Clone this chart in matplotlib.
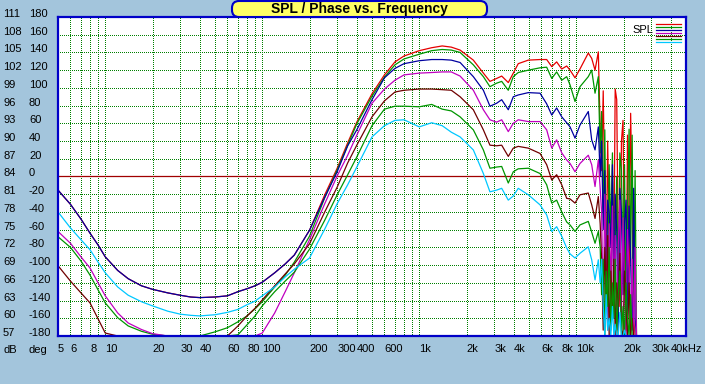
import numpy as np
import matplotlib.pyplot as plt
from matplotlib.patches import FancyBboxPatch
from matplotlib.lines import Line2D
from matplotlib.transforms import IdentityTransform, ScaledTranslation, blended_transform_factory

plt.rcParams['font.family'] = ['Liberation Sans', 'DejaVu Sans']
plt.rcParams['lines.scale_dashes'] = False

## frequency points (Hz), shared by all curves
freq = [5, 6, 7, 8, 9, 10, 12, 14, 17, 20, 25, 30, 35, 40, 50, 60, 70, 80, 90, 100,
        120, 140, 160, 200, 250, 300, 350, 400, 500, 600, 700, 800, 1000, 1200, 1400, 1600,
        1820, 2210, 2560, 2820, 3110, 3350, 3690, 3970, 4270, 4950, 5880, 6480, 6980, 7500,
        8080, 8690, 9130, 9820, 10560, 11930, 12540, 13170, 13820,
        14200, 14500, 14850, 15200, 15500, 15850, 16200, 16600, 17000, 17350, 17700, 18100,
        18500, 18950, 19400, 19850, 20300, 20750, 21200, 21700, 22200, 22700, 23200, 23700,
        24200, 50000]

# SPL curves (dB)
spl_red = [81.7, 79.3, 76.8, 74.4, 72.4, 70.4, 68.1, 66.7, 65.5, 64.9, 64.3, 63.9, 63.6, 63.5,
           63.6, 63.8, 64.5, 65.0, 65.5, 66.1, 67.7, 69.2, 70.7, 74.9, 80.9, 85.4, 89.7, 93.2,
           98.0, 101.2, 103.4, 104.4, 105.3, 105.8, 106.1, 105.9,
           105.4, 103.7, 101.5, 100.1, 100.6, 101.0, 99.9, 101.5, 103.1, 103.7, 103.8, 103.8,
           102.6, 103.4, 102.2, 102.7, 102.0, 100.7, 102.2, 104.9, 104.0, 102.0, 105.1,
           92, 85, 98.5, 80, 66, 90, 75, 60, 84, 70, 98.8, 97, 72, 62, 90, 93.5, 68, 58, 91,
           64, 94.7, 80, 60, 57, 57, 57]
spl_green1 = [73.8, 72.0, 69.7, 67.3, 64.8, 62.6, 60.1, 58.7, 57.8, 57.3, 57, 57, 57, 57,
              57.7, 58.4, 59.4, 60.4, 61.6, 62.8, 65.3, 67.3, 69.5, 73.9, 80.4, 85.1, 89.3, 92.9,
              97.6, 100.8, 102.9, 103.9, 104.7, 105.3, 105.5, 105.4,
              105.0, 102.9, 100.9, 99.2, 99.8, 100.1, 98.6, 100.9, 101.6, 102.0, 102.4, 102.5,
              100.6, 101.7, 100.3, 100.9, 99.5, 96.7, 99.2, 100.9, 102.0, 98.1, 100.9,
              88, 95, 78, 91.9, 70, 62, 86, 75, 88, 66, 72, 84, 60, 88, 85, 70, 86, 59, 78,
              92, 70, 91, 62, 85, 57, 57]
spl_navy = [81.7, 79.3, 76.8, 74.4, 72.4, 70.4, 68.1, 66.7, 65.5, 64.9, 64.3, 63.9, 63.6, 63.5,
            63.6, 63.8, 64.5, 65.0, 65.5, 66.1, 67.7, 69.2, 70.7, 74.9, 80.5, 84.8, 89.2, 91.9,
            97.0, 100.7, 102.3, 103.1, 103.6, 103.8, 103.8, 103.7,
            103.3, 100.9, 98.6, 95.9, 96.4, 97.0, 95.3, 97.5, 97.8, 98.2, 98.1, 96.3,
            94.4, 95.6, 94.1, 93.1, 92.4, 90.5, 92.7, 95.0, 90.2, 88.5, 92.4,
            84, 90, 75, 85, 62, 80, 78, 72, 86, 60, 81, 75, 58, 82, 78, 64, 76, 80, 60,
            79, 70, 58, 82, 60, 57, 57]
spl_magenta = [74.7, 72.7, 70.4, 68.5, 66.0, 63.8, 60.9, 59.2, 58.1, 57.4, 57, 57, 57, 57,
               57, 57, 57, 57, 57, 57.5, 60.9, 64.5, 67.7, 73.3, 79.4, 84.1, 87.6, 91.0,
               96.4, 98.8, 100.3, 101.2, 101.5, 101.6, 101.7, 101.7,
               101.0, 98.6, 95.3, 93.6, 93.2, 93.6, 91.6, 93.0, 93.6, 93.3, 93.3, 91.9,
               88.8, 90.2, 88.0, 86.8, 86.2, 84.8, 86.2, 87.6, 86.0, 82.3, 86.8,
               82, 78, 60, 81, 70, 58, 76, 66, 79, 62, 74, 57, 72, 80, 60, 77, 64, 57, 75,
               68, 58, 70, 57, 72, 57, 57]
spl_maroon = [68.9, 66.3, 64.3, 62.6, 59.9, 57.5, 57, 57, 57, 57, 57, 57, 57, 57,
              57, 57, 58.7, 60.4, 61.7, 63.1, 65.5, 67.5, 69.2, 72.6, 78.0, 82.2, 86.3, 89.3,
              94.1, 96.8, 98.3, 98.6, 98.8, 98.8, 98.7, 98.6,
              97.5, 95.3, 91.9, 89.3, 89.2, 89.3, 87.4, 88.8, 89.1, 88.8, 87.9, 86.0,
              83.4, 84.3, 82.6, 80.3, 80.2, 79.5, 80.9, 81.2, 79.2, 76.9, 80.6,
              76, 70, 58, 72, 64, 74, 57, 68, 60, 70, 57, 66, 62, 71, 58, 57, 68, 62, 57,
              66, 57, 60, 57, 57, 57, 57]
spl_green2 = [57, 57, 57, 57, 57, 57, 57, 57, 57, 57, 57, 57, 57, 57,
              57, 57, 57.2, 58.9, 60.4, 62.1, 64.5, 66.3, 67.8, 71.7, 76.6, 80.9, 84.3, 87.3,
              92.6, 95.4, 95.9, 95.9, 95.8, 96.2, 95.4, 95.1,
              94.1, 91.9, 88.5, 85.4, 85.6, 85.7, 82.9, 84.8, 85.3, 85.4, 84.5, 82.6,
              79.5, 80.0, 78.0, 76.3, 75.8, 74.7, 75.8, 76.4, 74.6, 72.7, 74.7,
              72, 64, 70, 57, 68, 62, 72, 58, 66, 60, 70, 57, 64, 68, 57, 62, 57, 66, 60,
              57, 64, 57, 57, 57, 57, 57]
spl_cyan = [78.0, 75.3, 73.3, 71.6, 69.5, 67.7, 65.3, 63.9, 62.8, 62.1, 61.2, 60.7, 60.5, 60.4,
            60.6, 61.0, 61.5, 62.3, 62.9, 63.8, 65.3, 67.0, 68.3, 70.2, 75.1, 79.4, 82.6, 85.6,
            90.7, 92.6, 93.5, 93.6, 92.4, 93.1, 92.6, 91.5,
            90.7, 88.5, 84.5, 81.4, 81.7, 82.0, 80.0, 80.7, 82.0, 80.9, 79.2, 77.5,
            74.7, 75.5, 73.9, 71.9, 70.9, 70.2, 71.0, 72.1, 69.9, 66.5, 69.9,
            66, 70, 62, 57, 64, 58, 60, 57, 62, 57, 59, 57, 57, 61, 57, 57, 58, 57, 57,
            57, 57, 57, 57, 57, 57, 57]

curves = [spl_red, spl_green1, spl_navy, spl_magenta, spl_maroon, spl_green2, spl_cyan]
colors = ['#e60000', '#009600', '#0000a0', '#c000c0', '#700000', '#009600', '#00c8ff']

x_ticks = [5, 6, 8, 10, 20, 30, 40, 60, 80, 100, 200, 300, 400, 600,
           1000, 2000, 3000, 4000, 6000, 8000, 10000, 20000, 30000, 40000]
x_labels = ['5', '6', '8', '10', '20', '30', '40', '60', '80', '100', '200', '300', '400', '600',
            '1k', '2k', '3k', '4k', '6k', '8k', '10k', '20k', '30k', '40kHz']
db_ticks = list(range(57, 112, 3))
deg_labels = ['-180', '-160', '-140', '-120', '-100', '-80', '-60', '-40', '-20', '0',
              '20', '40', '60', '80', '100', '120', '140', '160', '180']

W, H = 705, 384
fig = plt.figure(figsize=(W / 100, H / 100), dpi=100, facecolor='#a3c5dc')
ax = fig.add_axes([58 / W, (H - 336) / H, 628 / W, 319 / H])
ax.set_facecolor('white')
ax.set_xscale('log')
ax.set_xlim(5, 50000)
ax.set_ylim(57, 111)

# dotted green grid, 1px on / 2px off
dots = (0, (0.72, 1.44))
grid_x = [m * 10 ** e for e in range(0, 5) for m in range(1, 10) if 5 <= m * 10 ** e <= 50000]
for g in grid_x:
    ax.axvline(g, color='#008000', lw=0.72, ls=dots, zorder=1, antialiased=False)
for g in db_ticks:
    ax.axhline(g, color='#008000', lw=0.72, ls=dots, zorder=1, antialiased=False)
ax.axhline(84, color='#a00000', lw=0.9, zorder=1.5)

for y, c in zip(curves, colors):
    ax.plot(freq, y, color=c, lw=0.9, zorder=2)

for s in ax.spines.values():
    s.set_color('#0000c8')
    s.set_linewidth(1.6)
    s.set_zorder(3)

ax.set_xticks(x_ticks, x_labels)
ax.set_xticks([], minor=True)
ax.tick_params(axis='x', length=0, pad=6, labelsize=8)
plt.setp(ax.get_xticklabels(), ha='left')

# y labels: dB column and deg column, a little above each grid line
ax.set_yticks([])
lab_tr = blended_transform_factory(fig.transFigure, ax.transData) + \
    ScaledTranslation(0, 3 / 100, fig.dpi_scale_trans)
for v, d in zip(db_ticks, deg_labels):
    ax.text(3 / W, v, str(v), transform=lab_tr, fontsize=8, va='center', clip_on=False)
    ax.text(29 / W, v, d, transform=lab_tr, fontsize=8, va='center', clip_on=False)

fig.text(3 / W, 1 - 350 / H, 'dB', fontsize=8, va='center')
fig.text(29 / W, 1 - 350 / H, 'deg', fontsize=8, va='center')

# title box
box = FancyBboxPatch((232, H - 17), 255, 16, boxstyle='round,pad=0,rounding_size=7',
                     fc='#ffff66', ec='#0000c8', lw=1.5, transform=IdentityTransform(), zorder=5)
fig.add_artist(box)
fig.text(359 / W, 1 - 9 / H, 'SPL / Phase vs. Frequency', ha='center', va='center',
         fontsize=10, fontweight='bold', zorder=6)

# legend
fig.text(632 / W, 1 - 30 / H, 'SPL', fontsize=8, va='center', zorder=6)
for i, c in enumerate(colors):
    yy = 1 - (24.3 + 3 * i) / H
    fig.add_artist(Line2D([656 / W, 681 / W], [yy, yy], color=c, lw=0.9,
                          transform=fig.transFigure, zorder=6))

fig.savefig('out.png', dpi=100, facecolor=fig.get_facecolor())
